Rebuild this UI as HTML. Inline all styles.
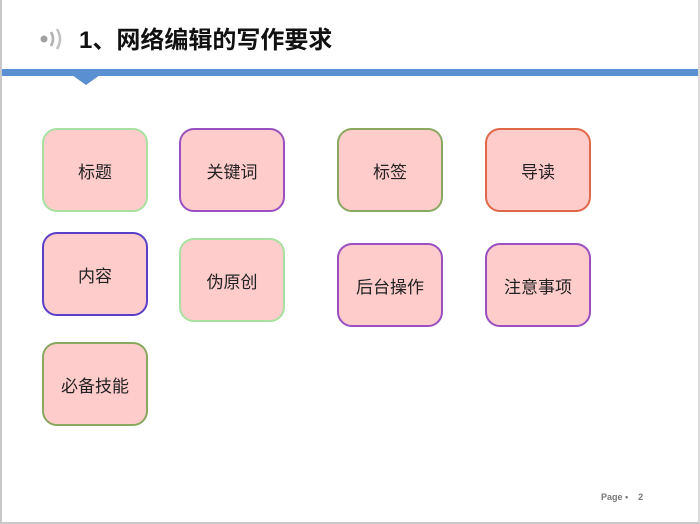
<!DOCTYPE html>
<html><head><meta charset="utf-8"><style>
body{margin:0;width:700px;height:524px;background:#fff;position:relative;overflow:hidden;font-family:"Liberation Sans","Noto Sans CJK SC",sans-serif}
.frame{position:absolute;left:0;top:0;border-left:2px solid #c8c8c8;border-bottom:2px solid #c8c8c8;border-right:2px solid #d8d8d8;box-sizing:border-box;width:700px;height:524px}
.b{position:absolute;width:106px;height:84px;background:#ffcccc;border:2px solid;border-radius:15px;box-sizing:border-box;display:flex;align-items:center;justify-content:center;font-size:17px;color:#222}
.t{position:absolute;left:79px;top:20px;font-size:24px;font-weight:bold;color:#111}
</style></head><body>
<div class="frame"></div>
<svg style="position:absolute;left:38px;top:26px" width="30" height="26">
<circle cx="6" cy="13" r="3.5" fill="#a0a0a0"/>
<path d="M13 6 Q17 13 13 20" stroke="#b0b0b0" stroke-width="2.5" fill="none"/>
<path d="M19 3 Q25 13 19 23" stroke="#c0c0c0" stroke-width="2.5" fill="none"/>
</svg>
<div class="t">1、网络编辑的写作要求</div>
<div style="position:absolute;left:2px;top:69px;width:696px;height:7px;background:#5a8fd2"></div>
<svg style="position:absolute;left:72px;top:75px" width="28" height="10"><polygon points="0,0 28,0 14,10" fill="#5a8fd2"/></svg>
<div class="b" style="left:42px;top:128px;border-color:#a8e0a0">标题</div>
<div class="b" style="left:179px;top:128px;border-color:#9a50c0">关键词</div>
<div class="b" style="left:337px;top:128px;border-color:#8aa860">标签</div>
<div class="b" style="left:485px;top:128px;border-color:#e06848">导读</div>
<div class="b" style="left:42px;top:232px;border-color:#5a40c8">内容</div>
<div class="b" style="left:179px;top:238px;border-color:#a8e0a0">伪原创</div>
<div class="b" style="left:337px;top:243px;border-color:#9a50c0">后台操作</div>
<div class="b" style="left:485px;top:243px;border-color:#9a50c0">注意事项</div>
<div class="b" style="left:42px;top:342px;border-color:#8aa860">必备技能</div>
<div style="position:absolute;left:601px;top:492px;font-size:9px;color:#777;font-weight:bold">Page •&nbsp;&nbsp;&nbsp; 2</div>
</body></html>
